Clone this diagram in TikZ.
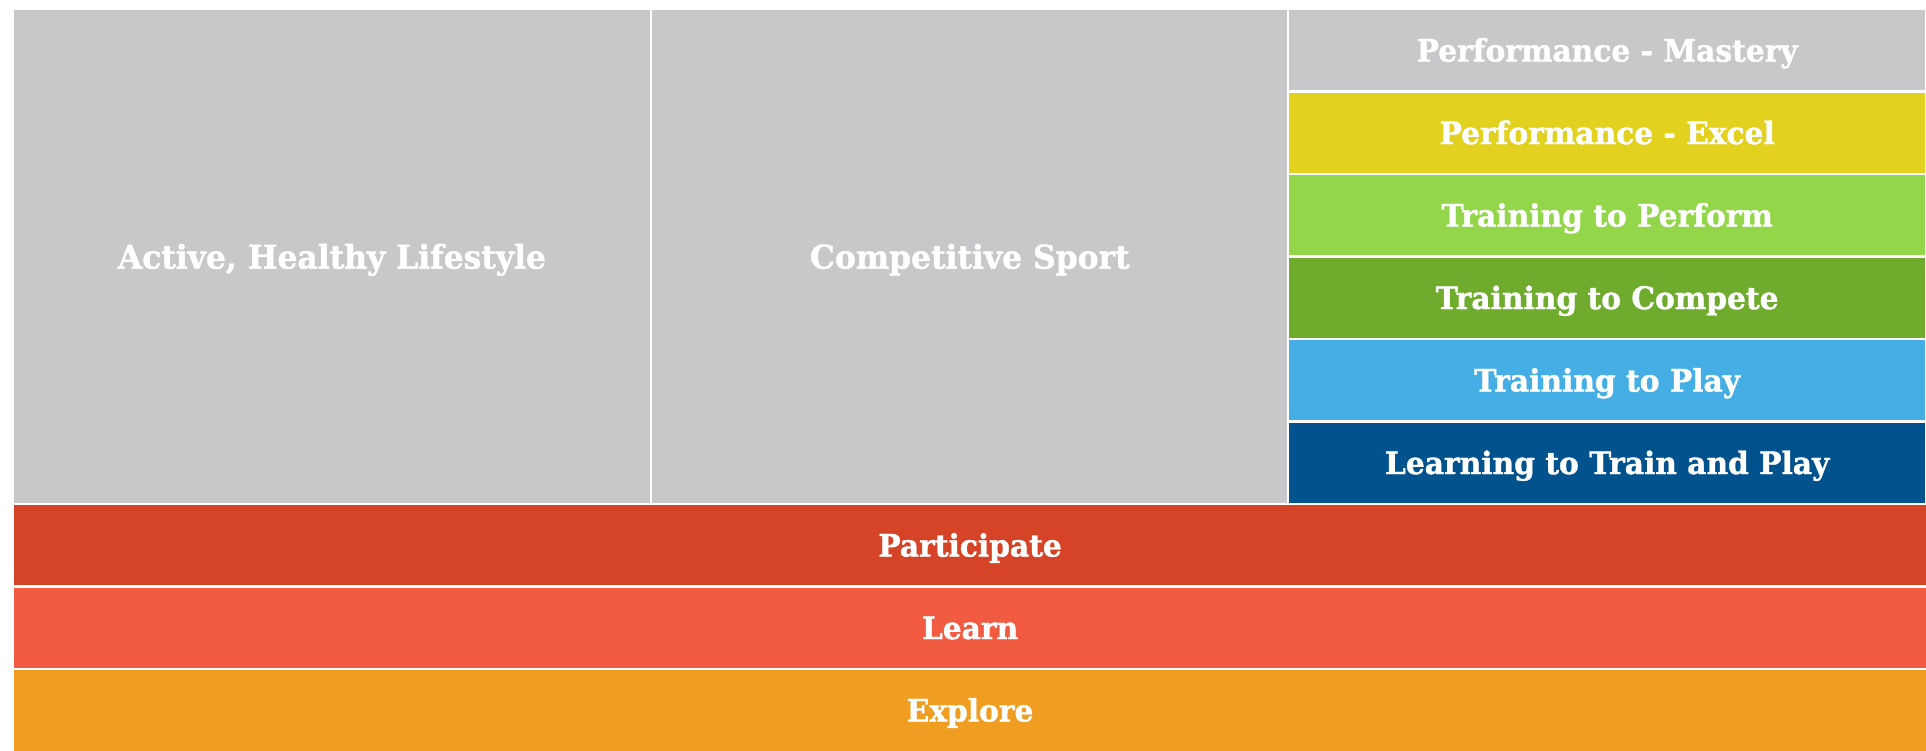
\documentclass[tikz,border=0pt]{standalone}
\usepackage{fontspec}
\setmainfont{DejaVu Serif}[FakeStretch=0.96, BoldFeatures={FakeBold=1.2}]
\usepackage{tikz}
\definecolor{colgrey}{RGB}{199,200,202}
\definecolor{colyellow}{RGB}{226,209,31}
\definecolor{collime}{RGB}{147,214,74}
\definecolor{colgreen}{RGB}{111,172,46}
\definecolor{colsky}{RGB}{69,175,229}
\definecolor{colnavy}{RGB}{2,82,142}
\definecolor{colred}{RGB}{213,68,39}
\definecolor{colcoral}{RGB}{240,91,65}
\definecolor{colorange}{RGB}{239,158,33}
\usetikzlibrary{
	positioning
}
\tikzset{
	block/.style={draw=white, line width=0.6pt, inner sep=0pt, outer sep=0pt,
		anchor=north west, text=white, text height=6.4pt, text depth=0pt,
		font=\fontsize{8.8}{10}\selectfont\bfseries},
	column/.style={block, fill=colgrey, minimum width=6.375cm, minimum height=4.95cm,
		text height=6.8pt, font=\fontsize{9.3}{11}\selectfont\bfseries},
	stage/.style={block, minimum width=6.38cm, minimum height=0.825cm},
	band/.style={block, minimum width=19.13cm, minimum height=0.825cm}
}

\begin{document}
\begin{tikzpicture}[x=0.01cm, y=-0.01cm]
	\useasboundingbox (0,0) rectangle (1926,750);
	% two wide columns on top
	\node[column] (active) at (13,9) {Active, Healthy Lifestyle};
	\node[column, right=0pt of active.north east, anchor=north west] (competitive) {Competitive Sport};
	% stages stacked in the right column
	\foreach \name/\col [count=\d from 0] in {
		Performance - Mastery/colgrey,
		Performance - Excel/colyellow,
		Training to Perform/collime,
		Training to Compete/colgreen,
		Training to Play/colsky,
		Learning to Train and Play/colnavy} {
		\node[stage, fill=\col] (stage\d) at (1288,9+\d*82.5) {\name};
	}
	% full width bands at the bottom
	\foreach \name/\col [count=\d from 0] in {Participate/colred,Learn/colcoral,Explore/colorange} {
		\node[band, fill=\col] (band\d) at (13,504+\d*82.5) {\name};
	}
\end{tikzpicture}
\end{document}
